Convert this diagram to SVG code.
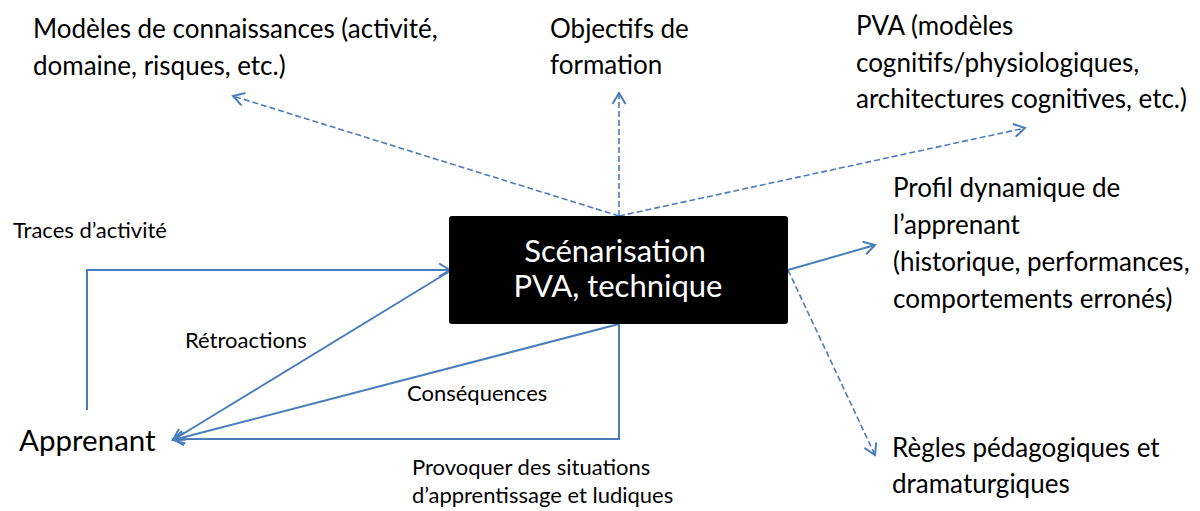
<svg xmlns="http://www.w3.org/2000/svg" width="1200" height="511" viewBox="0 0 1200 511">
<style>
text{font-family:Lato,"Open Sans",sans-serif;fill:#000}
.t{font-size:26px}
.s{font-size:22px}
.big{font-size:29.5px}
.box{font-size:31px;fill:#fff;text-anchor:middle}
.c{fill:none;stroke:#4a7ebb;stroke-width:2}
.d{fill:none;stroke:#4a7ebb;stroke-width:1.6;stroke-dasharray:6 3}
</style>
<defs>
<marker id="ah" markerUnits="userSpaceOnUse" markerWidth="16" markerHeight="16" refX="12" refY="7.5" orient="auto">
<path d="M1,1 L12,7.5 L1,14" fill="none" stroke="#4a7ebb" stroke-width="2"/>
</marker>
</defs>
<rect width="1200" height="511" fill="#fff"/>
<g id="connectors">
<path class="d" d="M619,216 L233,96" marker-end="url(#ah)"/>
<path class="d" d="M619,216 L619,93" marker-end="url(#ah)"/>
<path class="d" d="M619,216 L1025,128" marker-end="url(#ah)"/>
<path class="d" d="M788,270 L875,455" marker-end="url(#ah)"/>
<path class="c" d="M788,270 L875,245" marker-end="url(#ah)"/>
<path class="c" d="M87,410 L87,270 L450,270" marker-end="url(#ah)"/>
<path class="c" d="M450,271 L173,440" marker-end="url(#ah)"/>
<path class="c" d="M619,324 L173,440" marker-end="url(#ah)"/>
<path class="c" d="M619,324 L619,439 L173,439" marker-end="url(#ah)"/>
</g>
<g id="scenarisation">
<rect x="449" y="216" width="339" height="108" rx="3" fill="#000"/>
<text class="box" x="615" y="262">Scénarisation</text>
<text class="box" x="618" y="297">PVA, technique</text>
</g>
<g id="modeles">
<text class="t" x="33" y="38">Modèles de connaissances (activité,</text>
<text class="t" x="33" y="75">domaine, risques, etc.)</text>
</g>
<g id="objectifs">
<text class="t" x="550" y="38">Objectifs de</text>
<text class="t" x="550" y="74">formation</text>
</g>
<g id="pva">
<text class="t" x="856" y="35">PVA (modèles</text>
<text class="t" x="856" y="72">cognitifs/physiologiques,</text>
<text class="t" x="856" y="108">architectures cognitives, etc.)</text>
</g>
<g id="profil">
<text class="t" x="893" y="197">Profil dynamique de</text>
<text class="t" x="893" y="234">l’apprenant</text>
<text class="t" x="893" y="271">(historique, performances,</text>
<text class="t" x="893" y="308">comportements erronés)</text>
</g>
<g id="regles">
<text class="t" x="892" y="457">Règles pédagogiques et</text>
<text class="t" x="892" y="493">dramaturgiques</text>
</g>
<g id="apprenant">
<text class="big" x="19" y="451">Apprenant</text>
</g>
<g id="labels">
<text class="s" x="13" y="238">Traces d’activité</text>
<text class="s" x="185" y="348">Rétroactions</text>
<text class="s" x="407" y="401">Conséquences</text>
<text class="s" x="412" y="475">Provoquer des situations</text>
<text class="s" x="412" y="503">d’apprentissage et ludiques</text>
</g>
</svg>
